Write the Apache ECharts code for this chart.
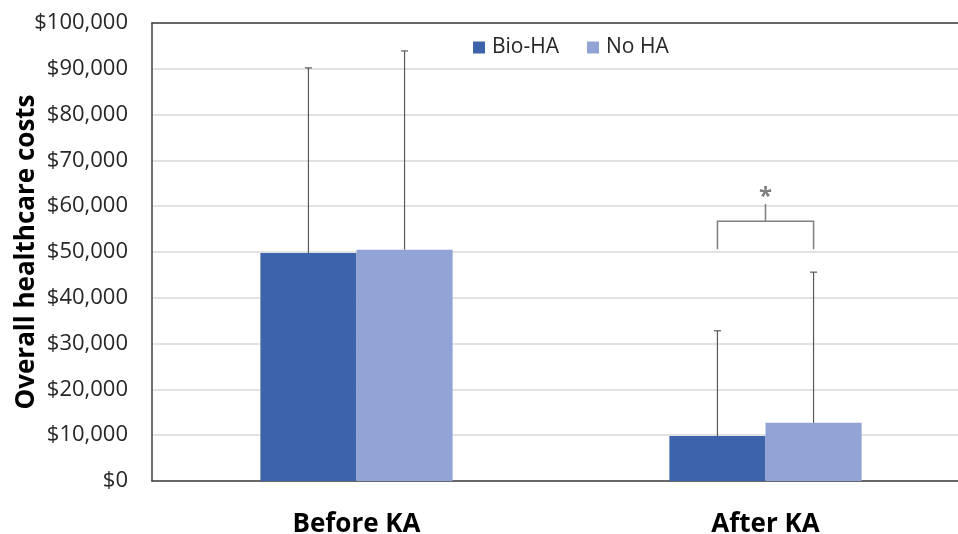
<!DOCTYPE html>
<html><head><meta charset="utf-8">
<script src="https://cdn.jsdelivr.net/npm/echarts@6/dist/echarts.min.js"></script>
<style>html,body{margin:0;padding:0;background:#fff;overflow:hidden}#c{width:958px;height:534px}</style>
</head><body><div id="c"></div>
<script>
const categories = ['Before KA', 'After KA'];
const seriesNames = ['Bio-HA', 'No HA'];
const bioHA = [49800, 9800];
const noHA = [50500, 12700];
const bioHAErrTop = [90200, 32800];
const noHAErrTop = [93900, 45600];
// significance bracket for After KA: [leg bottom, bracket line, tip top]
const bracketAfter = [50600, 56700, 60500];
const bracketLabel = '*';
const yTicks = [0, 10000, 20000, 30000, 40000, 50000, 60000, 70000, 80000, 90000, 100000];

const colors = ['#3D64AB', '#91A4D5'];
const catGap = 0.53;
const chart = echarts.init(document.getElementById('c'), null, {renderer: 'canvas'});

function barOffset(api, idx) {
  const band = api.size([1, 0])[0];
  const bw = band * (1 - catGap) / 2;
  return idx === 0 ? -bw / 2 : bw / 2;
}

const errData = [];
categories.forEach((c, i) => {
  errData.push([i, bioHA[i], bioHAErrTop[i], 0]);
  errData.push([i, noHA[i], noHAErrTop[i], 1]);
});

chart.setOption({
  animation: false,
  textStyle: {fontFamily: 'Open Sans'},
  grid: {left: 152, top: 23, bottom: 53, right: -12, show: false,
    containLabel: false, outerBoundsMode: 'none'},
  legend: {
    data: seriesNames, left: 468, top: 32, icon: 'rect', itemWidth: 12, itemHeight: 12, itemGap: 28,
    textStyle: {fontSize: 21, color: '#262626', fontFamily: 'Open Sans', padding: [0, 0, 0, 2]}
  },
  xAxis: [{
    type: 'category', data: categories,
    axisLine: {lineStyle: {color: '#404040', width: 1.5}},
    axisTick: {show: false},
    axisLabel: {fontSize: 26, fontWeight: 'bold', color: '#000', margin: 31, fontFamily: 'Open Sans'}
  }, {
    type: 'category', data: categories, position: 'top',
    axisLine: {show: true, lineStyle: {color: '#404040', width: 1.5}},
    axisTick: {show: false}, axisLabel: {show: false}, splitLine: {show: false}
  }],
  yAxis: {
    type: 'value', min: yTicks[0], max: yTicks[yTicks.length - 1], interval: 10000,
    name: 'Overall healthcare costs', nameLocation: 'middle', nameGap: 112, nameMoveOverlap: false,
    nameTextStyle: {fontSize: 26, fontWeight: 'bold', color: '#000', fontFamily: 'Open Sans'},
    axisLine: {show: true, lineStyle: {color: '#404040', width: 1.5}},
    axisTick: {show: false},
    splitLine: {lineStyle: {color: '#D9D9D9', width: 1.5}},
    axisLabel: {fontSize: 22, color: '#262626', margin: 24, fontFamily: 'Open Sans',
      formatter: v => '$' + v.toLocaleString('en-US')}
  },
  series: [
    {name: seriesNames[0], type: 'bar', data: bioHA, barGap: '0%', barCategoryGap: (catGap * 100) + '%', itemStyle: {color: colors[0]}},
    {name: seriesNames[1], type: 'bar', data: noHA, barGap: '0%', barCategoryGap: (catGap * 100) + '%', itemStyle: {color: colors[1]}},
    {
      type: 'custom', data: errData, z: 10, silent: true,
      renderItem: function (params, api) {
        const i = api.value(0), idx = api.value(3);
        const off = barOffset(api, idx);
        const p0 = api.coord([i, api.value(1)]);
        const p1 = api.coord([i, api.value(2)]);
        const x = p0[0] + off;
        const st = {stroke: '#595959', lineWidth: 1.2};
        return {type: 'group', children: [
          {type: 'line', shape: {x1: x, y1: p0[1], x2: x, y2: p1[1]}, style: st},
          {type: 'line', shape: {x1: x - 3.5, y1: p1[1], x2: x + 3.5, y2: p1[1]}, style: st}
        ]};
      }
    },
    {
      type: 'custom', data: [[1].concat(bracketAfter)], z: 10, silent: true,
      renderItem: function (params, api) {
        const i = api.value(0);
        const xl = api.coord([i, 0])[0] + barOffset(api, 0);
        const xr = api.coord([i, 0])[0] + barOffset(api, 1);
        const xm = (xl + xr) / 2;
        const yb = api.coord([i, api.value(1)])[1];
        const yl = api.coord([i, api.value(2)])[1];
        const yt = api.coord([i, api.value(3)])[1];
        const st = {stroke: '#7F7F7F', lineWidth: 1.5, fill: null};
        return {type: 'group', children: [
          {type: 'polyline', shape: {points: [[xl, yb], [xl, yl], [xr, yl], [xr, yb]]}, style: st},
          {type: 'line', shape: {x1: xm, y1: yl, x2: xm, y2: yt}, style: st},
          {type: 'text', x: xm, y: yt + 5, style: {text: bracketLabel, fill: '#7F7F7F', font: 'bold 24px "Open Sans"', align: 'center', verticalAlign: 'bottom'}}
        ]};
      }
    }
  ]
});
</script></body></html>
